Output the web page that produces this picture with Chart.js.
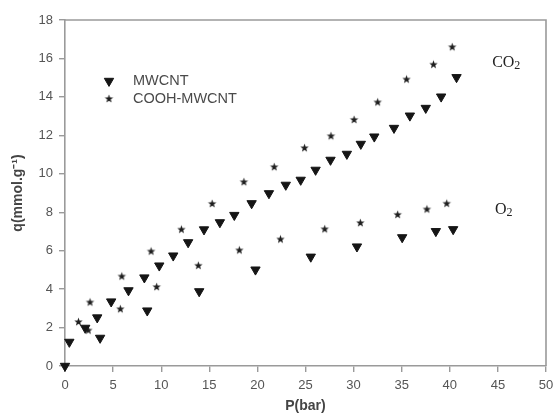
<!DOCTYPE html>
<html>
<head>
<meta charset="utf-8">
<script src="https://cdn.jsdelivr.net/npm/chart.js@4/dist/chart.umd.min.js"></script>
<style>
  html, body { margin: 0; padding: 0; background: #fff; }
  #wrap { width: 555px; height: 420px; position: relative; }
</style>
</head>
<body>
<div id="wrap"><canvas id="isoChart"></canvas></div>
<script>
// Isotherm data: P in bar, q in mmol/g
const mwcntCO2P = [0, 0.45, 2.1, 3.35, 4.8, 6.6, 8.25, 9.8, 11.25, 12.8, 14.45, 16.1, 17.6, 19.4, 21.2, 22.95, 24.5, 26.05, 27.6, 29.3, 30.75, 32.15, 34.2, 35.85, 37.5, 39.1, 40.7];
const mwcntCO2Q = [0, 1.25, 1.98, 2.52, 3.35, 3.93, 4.6, 5.22, 5.74, 6.43, 7.1, 7.47, 7.85, 8.46, 8.98, 9.42, 9.68, 10.2, 10.72, 11.03, 11.55, 11.93, 12.38, 13.02, 13.42, 14.01, 15.02];

const mwcntO2P = [3.65, 8.55, 13.95, 19.8, 25.55, 30.35, 35.05, 38.55, 40.35];
const mwcntO2Q = [1.46, 2.88, 3.88, 5.01, 5.68, 6.21, 6.69, 7.01, 7.11];

const coohCO2P = [1.4, 2.6, 5.9, 8.95, 12.1, 15.3, 18.6, 21.75, 24.9, 27.65, 30.05, 32.5, 35.5, 38.3, 40.25];
const coohCO2Q = [2.31, 3.33, 4.68, 5.98, 7.12, 8.46, 9.59, 10.37, 11.36, 11.98, 12.83, 13.74, 14.93, 15.7, 16.61];

const coohO2P = [2.42, 5.75, 9.53, 13.86, 18.12, 22.4, 27.0, 30.7, 34.58, 37.62, 39.68];
const coohO2Q = [1.87, 2.98, 4.13, 5.24, 6.04, 6.61, 7.14, 7.46, 7.89, 8.17, 8.47];

const legendNames = ['MWCNT', 'COOH-MWCNT'];
const gasText = ['CO', 'O'];
const gasX = [44.4, 44.7];
const gasY = [15.85, 8.2];

const xTicks = { min: 0, max: 50, step: 5 };
const yTicks = { min: 0, max: 18, step: 2 };

const AXIS_GRAY = '#9a9a9a';
const TEXT_GRAY = '#555';
const SANS = "'Liberation Sans', Arial, sans-serif";

// filled five-point star, chart.js 'star' is only an asterisk
function makeStar(r, color) {
  const c = document.createElement('canvas');
  const size = Math.ceil(r * 2 + 2);
  c.width = size; c.height = size;
  const g = c.getContext('2d');
  const cx = size / 2, cy = size / 2 + 0.4;
  g.beginPath();
  for (let i = 0; i < 10; i++) {
    const rr = i % 2 === 0 ? r : r * 0.42;
    const a = -Math.PI / 2 + i * Math.PI / 5;
    const px = cx + Math.cos(a) * rr, py = cy + Math.sin(a) * rr;
    i === 0 ? g.moveTo(px, py) : g.lineTo(px, py);
  }
  g.closePath();
  g.fillStyle = color;
  g.fill();
  return c;
}

const starImg = makeStar(4.4, '#1e1e1e');

const triStyle = {
  pointStyle: 'triangle',
  rotation: 180,
  pointRadius: 5.4,
  backgroundColor: '#151515',
  borderColor: '#151515',
  borderWidth: 1,
};
const starStyle = {
  pointStyle: starImg,
  pointRadius: 5,
  backgroundColor: '#1e1e1e',
  borderColor: '#1e1e1e',
};

function pts(xs, ys) {
  return xs.map((x, i) => ({ x: x, y: ys[i] }));
}

const framePlugin = {
  id: 'frame',
  beforeDatasetsDraw(chart) {
    const { ctx, chartArea: a } = chart;
    ctx.save();
    ctx.strokeStyle = AXIS_GRAY;
    ctx.lineWidth = 1.6;
    ctx.beginPath();
    ctx.moveTo(a.left, a.top);
    ctx.lineTo(a.right, a.top);
    ctx.lineTo(a.right, a.bottom);
    ctx.stroke();
    ctx.restore();
  },
};

const insideLegend = {
  id: 'insideLegend',
  afterDatasetsDraw(chart) {
    const { ctx, chartArea: a } = chart;
    const styles = [triStyle, starStyle];
    ctx.save();
    legendNames.forEach((name, i) => {
      const y = a.top + 61 + i * 17.5;
      const st = styles[i];
      ctx.fillStyle = st.backgroundColor;
      ctx.strokeStyle = st.borderColor;
      ctx.lineWidth = st.borderWidth || 0;
      Chart.helpers.drawPoint(ctx, {
        pointStyle: st.pointStyle,
        rotation: st.rotation || 0,
        radius: st.pointRadius,
        borderWidth: st.borderWidth || 0,
      }, a.left + 44, y);
      ctx.fillStyle = '#4a4a4a';
      ctx.font = '14.5px ' + SANS;
      ctx.textBaseline = 'middle';
      ctx.textAlign = 'left';
      ctx.fillText(name, a.left + 68, y);
    });
    ctx.restore();
  },
};

const gasLabels = {
  id: 'gasLabels',
  afterDatasetsDraw(chart) {
    const { ctx, scales } = chart;
    ctx.save();
    ctx.fillStyle = '#222';
    ctx.textBaseline = 'alphabetic';
    ctx.textAlign = 'left';
    gasText.forEach((t, i) => {
      const px = scales.x.getPixelForValue(gasX[i]);
      const py = scales.y.getPixelForValue(gasY[i]) + 5.5;
      ctx.font = "16px 'Liberation Serif', 'Times New Roman', serif";
      ctx.fillText(t, px, py);
      const w = ctx.measureText(t).width;
      ctx.font = "12px 'Liberation Serif', 'Times New Roman', serif";
      ctx.fillText('2', px + w, py + 2.5);
    });
    ctx.restore();
  },
};

function axis(range, titleText, titlePad, fitFn) {
  return {
    type: 'linear',
    min: range.min,
    max: range.max,
    ticks: {
      stepSize: range.step,
      color: TEXT_GRAY,
      font: { family: SANS, size: 13 },
      padding: 6,
    },
    grid: {
      display: true,
      drawOnChartArea: false,
      drawTicks: true,
      tickLength: 6,
      color: AXIS_GRAY,
      lineWidth: 1.4,
    },
    border: { display: true, color: AXIS_GRAY, width: 1.6 },
    title: {
      display: true,
      text: titleText,
      color: '#444',
      font: { family: SANS, size: 14, weight: 'bold' },
      padding: titlePad,
    },
    afterFit: fitFn,
  };
}

new Chart(document.getElementById('isoChart'), {
  type: 'scatter',
  data: {
    datasets: [
      { label: 'MWCNT CO2', data: pts(mwcntCO2P, mwcntCO2Q), ...triStyle },
      { label: 'MWCNT O2', data: pts(mwcntO2P, mwcntO2Q), ...triStyle },
      { label: 'COOH-MWCNT CO2', data: pts(coohCO2P, coohCO2Q), ...starStyle },
      { label: 'COOH-MWCNT O2', data: pts(coohO2P, coohO2Q), ...starStyle },
    ],
  },
  options: {
    responsive: true,
    maintainAspectRatio: false,
    animation: false,
    devicePixelRatio: 1,
    clip: false,
    layout: { padding: { top: 20, right: 9, left: 0, bottom: 0 } },
    scales: {
      x: axis(xTicks, 'P(bar)', { top: 0, bottom: 5 }, (s) => {
        s.height = 54;
        s.paddingLeft = 0;
        s.paddingRight = 0;
      }),
      y: axis(yTicks, 'q(mmol.g\u207B\u00B9)', { top: 10, bottom: 0 }, (s) => {
        s.width = 65;
        s.paddingTop = 0;
        s.paddingBottom = 0;
      }),
    },
    plugins: {
      legend: { display: false },
      tooltip: { enabled: false },
    },
  },
  plugins: [framePlugin, insideLegend, gasLabels],
});
</script>
</body>
</html>
